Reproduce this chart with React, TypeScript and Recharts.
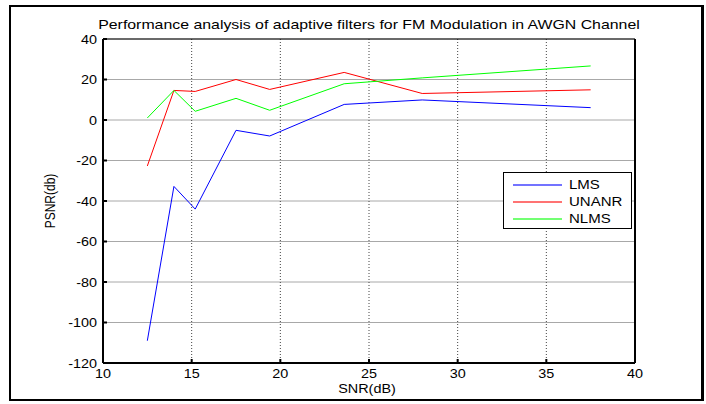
import { LineChart, Line, XAxis, YAxis, CartesianGrid } from 'recharts';

const snr = [12.5, 14, 15.2, 17.5, 19.4, 23.6, 28, 37.5];
const lms = [-109, -32.8, -44, -5.1, -7.9, 7.7, 9.9, 6.1];
const unanr = [-22.7, 14.6, 14.1, 20, 15.1, 23.5, 13.1, 14.9];
const nlms = [1.0, 14.6, 4.3, 10.7, 4.8, 17.9, 20.8, 26.7];

const xTicks = [10, 15, 20, 25, 30, 35, 40];
const yTicks = [-120, -100, -80, -60, -40, -20, 0, 20, 40];

const series = [
  { key: 'LMS', color: '#0000ff' },
  { key: 'UNANR', color: '#ff0000' },
  { key: 'NLMS', color: '#00ff00' },
];

const data = snr.map((x, i) => ({ snr: x, LMS: lms[i], UNANR: unanr[i], NLMS: nlms[i] }));

const font = '"Liberation Sans", Arial, sans-serif';
// the source picture is stretched sideways, so text is widened a bit
const stretch = 1.2;

const XTick = ({ x, y, payload }: any) => (
  <text
    transform={`translate(${x},${y}) scale(${stretch},1)`}
    textAnchor="middle"
    dy="0.71em"
    fill="#000"
    fontSize={12}
    fontFamily={font}
  >
    {payload.value}
  </text>
);

const YTick = ({ x, y, payload }: any) => (
  <text
    transform={`translate(${x},${y}) scale(${stretch},1)`}
    textAnchor="end"
    dy="0.4em"
    fill="#000"
    fontSize={12}
    fontFamily={font}
  >
    {payload.value}
  </text>
);

const LegendBox = () => (
  <div
    style={{
      position: 'absolute',
      left: 503,
      top: 172,
      border: '1px solid #000',
      background: '#fff',
      width: 129,
      height: 57,
      boxSizing: 'border-box',
      padding: '3px 0 0 9px',
      fontFamily: font,
      fontSize: 12,
    }}
  >
    {series.map((s) => (
      <div key={s.key} style={{ display: 'flex', alignItems: 'center', height: 17 }}>
        <svg width={49} height={4} style={{ display: 'block' }}>
          <line x1={0} y1={2} x2={49} y2={2} stroke={s.color} strokeOpacity={0.55} strokeWidth={2} />
        </svg>
        <span style={{ marginLeft: 7, display: 'inline-block', transform: 'scaleX(1.25)', transformOrigin: 'left center' }}>
          {s.key}
        </span>
      </div>
    ))}
  </div>
);

export default function App() {
  return (
    <div style={{ position: 'absolute', left: 0, top: 0, width: 706, height: 404, background: '#fff' }}>
      <div
        style={{
          position: 'absolute',
          left: 9,
          top: 5,
          width: 695,
          height: 396,
          border: '2px solid #000',
          borderRightWidth: 3,
          boxSizing: 'border-box',
        }}
      />
      <div
        style={{
          position: 'absolute',
          left: 103,
          width: 532,
          top: 17,
          textAlign: 'center',
          fontFamily: font,
          fontSize: 13,
          lineHeight: '15px',
          transform: 'scaleX(1.22)',
        }}
      >
        Performance analysis of adaptive filters for FM Modulation in AWGN Channel
      </div>
      <div style={{ position: 'absolute', left: 0, top: 0 }}>
        <LineChart
          width={706}
          height={404}
          data={data}
          margin={{ top: 38, right: 70, bottom: 11, left: 53 }}
        >
          <CartesianGrid vertical={false} stroke="#a8a8a8" strokeWidth={1} />
          <CartesianGrid horizontal={false} stroke="#444" strokeDasharray="1 2" />
          <XAxis
            dataKey="snr"
            type="number"
            domain={[10, 40]}
            ticks={xTicks}
            stroke="#000"
            strokeWidth={2}
            tickSize={-4}
            tickMargin={10}
            tick={<XTick />}
            height={30}
          />
          <XAxis
            xAxisId="top"
            dataKey="snr"
            type="number"
            orientation="top"
            domain={[10, 40]}
            ticks={xTicks}
            stroke="#000"
            tickSize={-4}
            tick={false}
            height={1}
          />
          <YAxis
            type="number"
            domain={[-120, 40]}
            ticks={yTicks}
            stroke="#000"
            strokeWidth={2}
            tickSize={-4}
            tickMargin={10}
            tick={<YTick />}
            width={50}
          />
          <YAxis
            yAxisId="right"
            type="number"
            orientation="right"
            domain={[-120, 40]}
            ticks={yTicks}
            stroke="#000"
            strokeWidth={2}
            tickSize={-4}
            tick={false}
            width={1}
          />
          {series.map((s) => (
            <Line
              key={s.key}
              dataKey={s.key}
              stroke={s.color}
              strokeWidth={1}
              dot={false}
              isAnimationActive={false}
              type="linear"
            />
          ))}
        </LineChart>
      </div>
      <div
        style={{
          position: 'absolute',
          left: 367,
          top: 389,
          transform: 'translate(-50%,-50%) scaleX(1.2)',
          fontFamily: font,
          fontSize: 12,
          lineHeight: '11px',
          whiteSpace: 'nowrap',
        }}
      >
        SNR(dB)
      </div>
      <div
        style={{
          position: 'absolute',
          left: 50,
          top: 201,
          transform: 'translate(-50%,-50%) scale(1.2,1) rotate(-90deg)',
          fontFamily: font,
          fontSize: 12,
          lineHeight: '14px',
          whiteSpace: 'nowrap',
        }}
      >
        PSNR(db)
      </div>
      <LegendBox />
    </div>
  );
}
